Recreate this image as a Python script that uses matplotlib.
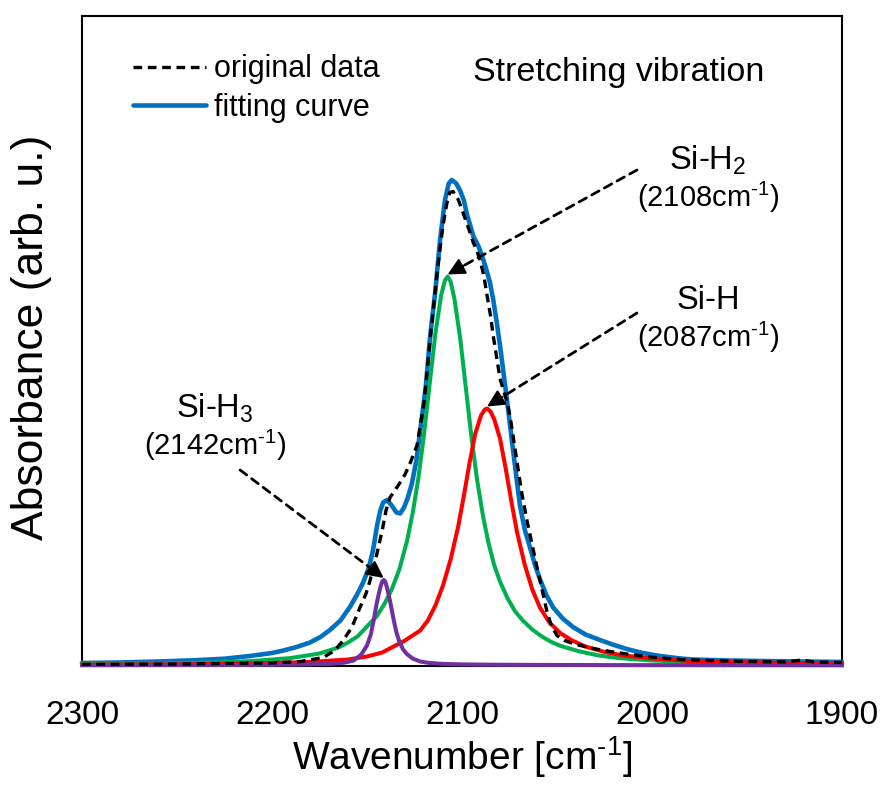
import numpy as np
import matplotlib
matplotlib.use('Agg')
import matplotlib.pyplot as plt

plt.rcParams['font.family'] = ['Liberation Sans', 'DejaVu Sans']
plt.rcParams['mathtext.fontset'] = 'custom'
plt.rcParams['mathtext.rm'] = 'Liberation Sans'
plt.rcParams['mathtext.it'] = 'Liberation Sans:italic'
plt.rcParams['mathtext.bf'] = 'Liberation Sans:bold'

# original spectrum (wavenumber, absorbance in arb. units)
data_wn = [2300, 2250, 2200, 2185, 2173, 2167, 2162.6, 2158, 2153.7, 2150.5, 2148.4, 2145, 2142, 2140,
           2137.9, 2135, 2132.6, 2130, 2127.4, 2123.7, 2120, 2116.8, 2113, 2110, 2108, 2106.5, 2104.7,
           2102, 2099.3, 2096.5, 2094.1, 2092, 2090.5, 2088.5, 2087, 2085, 2083.5, 2081.5, 2080, 2078,
           2076.3, 2074.7, 2073, 2071, 2068.5, 2065.8, 2063, 2060.5, 2058, 2055.3, 2053, 2050, 2046,
           2040, 2031, 2022, 2013, 2005, 1996, 1985, 1970, 1950, 1930, 1921, 1915, 1900]
data_abs = [1, 1.5, 2.5, 4, 8, 15, 25, 38, 58, 72, 85, 110, 135, 155,
            168, 176, 183, 191, 202, 220, 262, 325, 395, 440, 462, 473, 474,
            466, 452, 437, 423, 414, 405, 390, 372, 350, 329, 305, 287, 274,
            264, 249, 228, 203, 172, 145, 120, 98, 77, 54, 40, 30, 25,
            21, 17, 14, 11.5, 9.5, 7.5, 6, 5, 4, 3.5, 5.5, 3.5, 3]

# fitting curve
fit_wn = [2300, 2280, 2260, 2240, 2225, 2211.6, 2200, 2194, 2187, 2180, 2174.5, 2169.5, 2164, 2159,
          2155.5, 2152, 2149, 2146.8, 2144.7, 2143, 2141.5, 2139.5, 2137, 2134.5, 2132.5, 2130.5,
          2128.5, 2126.5, 2124, 2122, 2119, 2116.8, 2114, 2111.6, 2109, 2107, 2105.4, 2103, 2101,
          2099, 2097.5, 2094, 2091.5, 2089.5, 2087.5, 2085.3, 2083.5, 2081.7, 2080, 2078.3, 2076.5,
          2074.7, 2072, 2069.5, 2067, 2064.2, 2061.5, 2058.9, 2055.5, 2052, 2047, 2041.6, 2035,
          2027.4, 2020, 2013.3, 2005, 1995.8, 1985, 1978.4, 1960, 1943, 1920, 1900]
fit_abs = [2.5, 3, 4, 5.3, 6.8, 9.5, 12.5, 15, 18.5, 23, 28.5, 35.5, 45, 58.5,
           70, 83, 98, 115.5, 140, 155, 163, 165.5, 160, 153, 152, 158,
           168, 181, 205, 235, 280, 329, 375, 425, 465, 482, 485.5, 482, 475,
           465, 452, 429, 420, 410, 398, 383, 365, 343, 320, 295, 268,
           240, 198, 160, 136, 118, 100, 86, 70, 58, 47, 38.5, 31,
           25.5, 20.5, 16.5, 12.5, 9.5, 7, 6, 5, 4.5, 4, 3.5]

# Si-H2 component (2108 cm-1)
sih2_wn = [2300, 2260, 2230, 2210, 2190, 2175, 2165, 2160, 2155, 2150, 2145, 2141, 2137, 2133, 2129,
           2126, 2123, 2120, 2117, 2114, 2111, 2109, 2107.6, 2106, 2104, 2101, 2098, 2095, 2092, 2089,
           2086, 2083, 2080, 2076, 2072, 2068, 2063, 2058, 2053, 2048, 2038, 2028, 2018, 2000, 1980,
           1950, 1900]
sih2_abs = [1.5, 2, 3, 4.5, 7.5, 12, 18, 23, 29, 39, 49, 61, 76, 96, 124,
            152, 187, 231, 282, 332, 370, 385, 389, 384, 367, 328, 278, 228, 185, 150,
            122, 100, 84, 67, 54, 45, 36, 29, 23.5, 19.5, 14, 10, 7.5, 5, 3.5,
            2.5, 2]

# Si-H component (2087 cm-1)
sih_wn = [2300, 2250, 2210, 2180, 2160, 2150, 2142, 2135, 2130, 2126, 2122, 2118, 2114, 2110, 2106,
          2102, 2099, 2096, 2093, 2090, 2088, 2086.8, 2085, 2083, 2080, 2077, 2074, 2071, 2067, 2063,
          2059, 2054, 2048, 2042, 2035, 2025, 2015, 2000, 1980, 1960, 1930, 1900]
sih_abs = [0.8, 1.2, 2, 3.5, 6, 9, 13, 20, 25, 30, 35, 45, 60, 80, 106,
           139, 170, 203, 232, 250, 256, 257, 254, 246, 227, 197, 164, 133, 101, 76,
           58, 43, 32, 25, 19, 13.5, 10, 7, 4.5, 3.5, 2.5, 2]

# Si-H3 component (2142 cm-1)
sih3_wn = [2300, 2250, 2210, 2185, 2170, 2162, 2157, 2153, 2150, 2148, 2146.5, 2145, 2144, 2143, 2142,
           2141.2, 2140.4, 2139.5, 2138.5, 2137.5, 2136, 2134.5, 2133, 2131, 2129, 2126, 2122, 2117,
           2110, 2100, 2085, 2060, 2020, 1960, 1900]
sih3_abs = [0.3, 0.4, 0.6, 1, 1.6, 2.8, 5, 11, 20, 31, 45, 61, 70, 78, 84,
            85.5, 84, 78, 70, 61, 46, 33, 24, 16, 11.5, 7, 4, 2.5,
            1.6, 1.1, 0.8, 0.6, 0.4, 0.3, 0.2]

blue = '#0070C0'
green = '#00B050'
red = '#FF0000'
purple = '#7030A0'
inv = '$^{\u20101}$'  # superscript "-1" drawn with a hyphen, as in the original

fig = plt.figure(figsize=(8.88, 7.87), dpi=100)
ax = fig.add_axes([82 / 888, (787 - 665.5) / 787, 760 / 888, 650 / 787])

ax.plot(fit_wn, fit_abs, color=blue, lw=3.3, zorder=3, clip_on=False, label='fitting curve',
        solid_capstyle='round', solid_joinstyle='round')
ax.plot(sih2_wn, sih2_abs, color=green, lw=2.9, zorder=3.1, clip_on=False, solid_joinstyle='round')
ax.plot(sih_wn, sih_abs, color=red, lw=2.9, zorder=3.2, clip_on=False, solid_joinstyle='round')
ax.plot(sih3_wn, sih3_abs, color=purple, lw=2.9, zorder=3.3, clip_on=False, solid_joinstyle='round')
ax.plot(data_wn, data_abs, color='black', lw=2.4, ls=(0, (2.6, 1.7)), zorder=3.4,
        label='original data')

ax.set_xlim(2300, 1900)
ax.set_ylim(0, 650)
ax.set_xticks([2300, 2200, 2100, 2000, 1900])
ax.set_yticks([])
ax.tick_params(axis='x', length=0, pad=25, labelsize=24)
for s in ax.spines.values():
    s.set_linewidth(1.5)

ax.set_xlabel('Wavenumber [cm' + inv + ']', fontsize=28)
ax.xaxis.label.set_va('center')
ax.xaxis.set_label_coords(0.5, (665.5 - 757) / 650)
ax.set_ylabel('Absorbance (arb. u.)', fontsize=32)
ax.yaxis.label.set_va('center')
ax.yaxis.set_label_coords((31 - 82) / 760, (665.5 - 337) / 650)

handles, labels = ax.get_legend_handles_labels()
leg = ax.legend(handles[::-1], labels[::-1], loc='upper left', bbox_to_anchor=(0.067, 0.94),
                frameon=False, fontsize=22, handlelength=2.4, handletextpad=0.25,
                labelspacing=0.28, borderpad=0, borderaxespad=0)

ax.text(0.7066, 0.913, 'Stretching vibration', transform=ax.transAxes, fontsize=24.5,
        ha='center', va='center')


def label_peak(wn, ab, name, pos, text_xy, start):
    i = int(np.argmax(ab))
    tip = (wn[i], ab[i] + 2)
    ax.text(text_xy[0], text_xy[1], name, transform=ax.transAxes, fontsize=23.5,
            ha='center', va='center')
    ax.text(text_xy[0], text_xy[1] - 0.057, '(' + pos + 'cm' + inv + ')', transform=ax.transAxes,
            fontsize=21, ha='center', va='center')
    ax.annotate('', xy=tip, xytext=start,
                arrowprops=dict(arrowstyle='-', color='black', lw=2.0, ls=(0, (3, 2.2)),
                                shrinkA=0, shrinkB=8), zorder=5)
    near = (tip[0] + 0.09 * (start[0] - tip[0]), tip[1] + 0.09 * (start[1] - tip[1]))
    ax.annotate('', xy=tip, xytext=near,
                arrowprops=dict(arrowstyle='-|>', color='black', lw=1.5, mutation_scale=26,
                                shrinkA=0, shrinkB=0), zorder=5)


label_peak(sih2_wn, sih2_abs, 'Si-H$_2$', '2108', (0.8237, 0.7777), (2007.9, 495.5))
label_peak(sih_wn, sih_abs, 'Si-H', '2087', (0.8237, 0.5623), (2007.9, 352.5))
label_peak(sih3_wn, sih3_abs, 'Si-H$_3$', '2142', (0.175, 0.396), (2216.8, 195.5))

plt.savefig('out.png', dpi=100)
